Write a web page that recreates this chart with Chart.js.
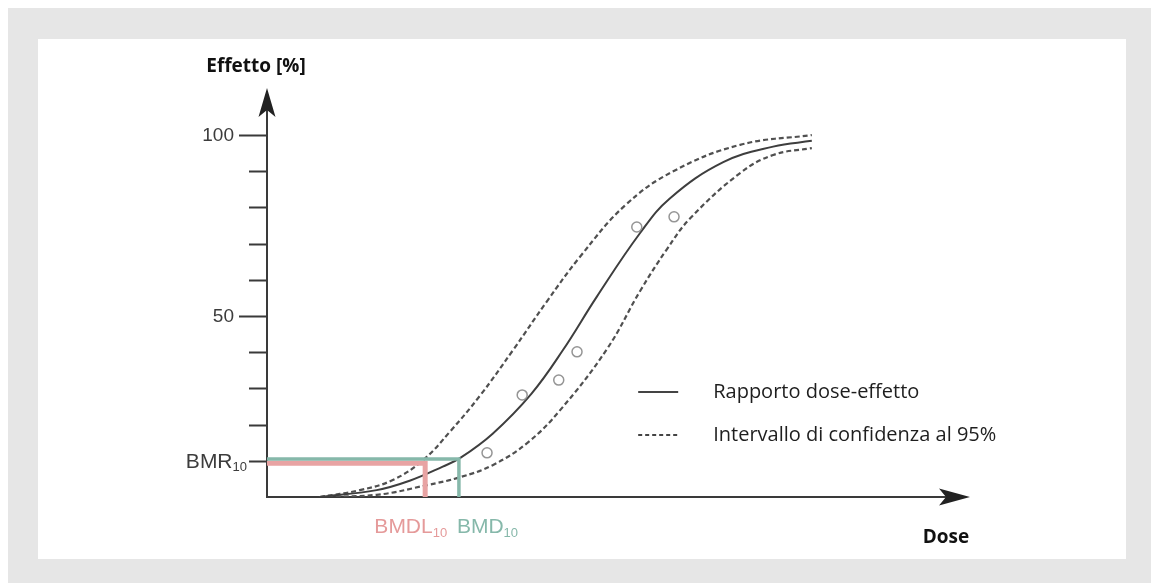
<!DOCTYPE html>
<html lang="it">
<head>
<meta charset="UTF-8">
<title>Rapporto dose-effetto</title>
<script src="https://cdn.jsdelivr.net/npm/chart.js"></script>
<style>
    body {
        margin: 0;
        background: #fff;
        width: 1151px;
        height: 583px;
        overflow: hidden;
        position: relative;
    }
    #frame { position: absolute; left: 8px; top: 8px; right: 0; bottom: 0; background: #e6e6e6; }
    #panel { position: absolute; left: 38px; top: 39px; width: 1088px; height: 520px; background: #fff; }
    #wrap { position: absolute; left: 0; top: 0; width: 1151px; height: 583px; }
</style>
</head>
<body>
<div id="frame"></div>
<div id="panel"></div>
<div id="wrap"><canvas id="doseChart" width="1151" height="583"></canvas></div>

<script>
// fitted dose-response curve (dose in arbitrary units, effect in %)
const fitDose   = [7.5, 15.6, 20.3, 25.0, 27.5, 32.1, 37.6, 42.1, 46.9, 53.1, 57.3, 64.9, 72.0, 77.5];
const fitEffect = [0, 1.9, 4.5, 8.4, 10.8, 17.5, 28.5, 40.6, 55.3, 73.0, 82.5, 92.5, 96.8, 98.4];

// 95% confidence band
const upperDose   = [7.5, 13.2, 17.9, 22.2, 26.0, 30.3, 35.0, 39.8, 44.5, 50.9, 57.8, 67.3, 77.5];
const upperEffect = [0, 1.9, 4.7, 10.2, 18.0, 28.0, 40.6, 54.0, 66.3, 80.5, 90.0, 97.3, 100.0];
const lowerDose   = [7.5, 15.6, 22.8, 27.5, 32.1, 37.0, 41.7, 48.4, 53.1, 56.9, 60.2, 67.3, 72.0, 77.5];
const lowerEffect = [0, 0.6, 3.3, 5.5, 8.8, 14.9, 24.0, 41.0, 57.0, 68.5, 77.0, 89.5, 94.5, 96.4];

// observed responses
const obsDose   = [31.3, 36.3, 41.5, 44.1, 52.6, 57.9];
const obsEffect = [12.2, 28.2, 32.3, 40.1, 74.6, 77.4];

// benchmark values
const bmdl = 22.5;
const bmd = 27.3;
const bmdlLevel = 9.3;
const bmdLevel = 10.5;
const bmr = 10;

// y axis ticks
const yTicks = [10, 20, 30, 40, 50, 60, 70, 80, 90, 100];
const yLabelled = [50, 100];

const legendLabels = ['Rapporto dose-effetto', 'Intervallo di confidenza al 95%'];

const toPoints = (xs, ys) => xs.map((v, i) => ({ x: v, y: ys[i] }));

function arrowHead(ctx, tx, ty, dir) {
    ctx.beginPath();
    if (dir === 'up') {
        ctx.moveTo(tx, ty);
        ctx.lineTo(tx + 8.5, ty + 29);
        ctx.lineTo(tx, ty + 22);
        ctx.lineTo(tx - 8.5, ty + 29);
    } else {
        ctx.moveTo(tx, ty);
        ctx.lineTo(tx - 31, ty - 8.5);
        ctx.lineTo(tx - 24, ty);
        ctx.lineTo(tx - 31, ty + 8.5);
    }
    ctx.closePath();
    ctx.fill();
}

function subText(ctx, main, sub, x, y, align, color) {
    const mainFont = '21px "Liberation Sans", Arial, sans-serif';
    const subFont = '13px "Liberation Sans", Arial, sans-serif';
    ctx.fillStyle = color;
    ctx.textBaseline = 'middle';
    ctx.textAlign = 'left';
    ctx.font = mainFont;
    const wMain = ctx.measureText(main).width;
    ctx.font = subFont;
    const wSub = ctx.measureText(sub).width;
    const start = align === 'right' ? x - wMain - wSub : x;
    ctx.font = mainFont;
    ctx.fillText(main, start, y);
    ctx.font = subFont;
    ctx.fillText(sub, start + wMain, y + 6);
}

const decor = {
    id: 'decor',
    beforeDatasetsDraw(chart) {
        const { ctx, chartArea: a, scales: { x, y } } = chart;
        const x0 = x.getPixelForValue(0);
        const y0 = y.getPixelForValue(0);
        ctx.save();
        ctx.strokeStyle = '#3a3a3a';
        ctx.fillStyle = '#222';
        ctx.lineWidth = 2;

        // axes
        ctx.beginPath();
        ctx.moveTo(x0, y0);
        ctx.lineTo(x0, a.top + 22);
        ctx.moveTo(x0 - 1, y0);
        ctx.lineTo(a.right - 24, y0);
        ctx.stroke();
        arrowHead(ctx, x0, a.top, 'up');
        arrowHead(ctx, a.right, y0, 'right');

        // y ticks
        ctx.beginPath();
        yTicks.forEach(v => {
            const p = Math.round(y.getPixelForValue(v)) + 0.5;
            const len = yLabelled.includes(v) ? 28 : 18;
            ctx.moveTo(x0 - len, p);
            ctx.lineTo(x0, p);
        });
        ctx.lineWidth = 1.8;
        ctx.stroke();

        // tick labels
        ctx.fillStyle = '#3c3c3c';
        ctx.font = '19px "Liberation Sans", Arial, sans-serif';
        ctx.textAlign = 'right';
        ctx.textBaseline = 'middle';
        yLabelled.forEach(v => ctx.fillText(String(v), x0 - 33, y.getPixelForValue(v) + 1));
        subText(ctx, 'BMR', '10', x0 - 20, y.getPixelForValue(bmr) + 1, 'right', '#3c3c3c');

        // benchmark dose labels
        subText(ctx, 'BMDL', '10', x.getPixelForValue(bmdl) + 22, y0 + 30, 'right', '#e59a9a');
        subText(ctx, 'BMD', '10', x.getPixelForValue(bmd) - 2, y0 + 30, 'left', '#86b8aa');

        // axis titles
        ctx.fillStyle = '#111';
        ctx.font = 'bold 19px "Open Sans", Lato, sans-serif';
        ctx.textAlign = 'center';
        ctx.fillText('Effetto [%]', x0 - 11, a.top - 21);
        ctx.fillText('Dose', a.right - 24, y0 + 41);
        ctx.restore();
    },
    afterDraw(chart) {
        const { ctx, scales: { x, y } } = chart;
        ctx.save();
        // legend
        const lx = x.getPixelForValue(52.8);
        const rows = [y.getPixelForValue(29.0), y.getPixelForValue(17.1)];
        const dashes = [[], [4, 3]];
        rows.forEach((ry, i) => {
            ctx.beginPath();
            ctx.setLineDash(dashes[i]);
            ctx.strokeStyle = '#444';
            ctx.lineWidth = 2;
            ctx.moveTo(lx, ry);
            ctx.lineTo(lx + 40, ry);
            ctx.stroke();
            ctx.setLineDash([]);
            ctx.fillStyle = '#1e1e1e';
            ctx.font = '20px "Open Sans", Lato, sans-serif';
            ctx.textAlign = 'left';
            ctx.textBaseline = 'middle';
            ctx.fillText(legendLabels[i], lx + 75, ry);
        });
        ctx.restore();
    }
};

new Chart(document.getElementById('doseChart'), {
    type: 'line',
    data: {
        datasets: [
            {
                label: 'BMD',
                data: [{ x: 0, y: bmdLevel }, { x: bmd, y: bmdLevel }, { x: bmd, y: 0 }],
                borderColor: '#86b8aa',
                borderWidth: 3.5,
                borderJoinStyle: 'miter',
                tension: 0,
                pointRadius: 0,
                clip: false
            },
            {
                label: 'BMDL',
                data: [{ x: 0, y: bmdlLevel }, { x: bmdl, y: bmdlLevel }, { x: bmdl, y: 0 }],
                borderColor: '#e8a3a3',
                borderWidth: 5,
                borderJoinStyle: 'miter',
                tension: 0,
                pointRadius: 0,
                clip: false
            },
            {
                label: 'Osservazioni',
                data: toPoints(obsDose, obsEffect),
                showLine: false,
                pointRadius: 5,
                pointBorderWidth: 1.5,
                pointBorderColor: '#959595',
                pointBackgroundColor: 'rgba(255,255,255,0)'
            },
            {
                label: legendLabels[0],
                data: toPoints(fitDose, fitEffect),
                borderColor: '#3e3e3e',
                borderWidth: 2,
                tension: 0.4,
                pointRadius: 0
            },
            {
                label: legendLabels[1],
                data: toPoints(upperDose, upperEffect),
                borderColor: '#505050',
                borderWidth: 2.2,
                borderDash: [5, 3],
                tension: 0.4,
                pointRadius: 0
            },
            {
                label: legendLabels[1] + ' (inf.)',
                data: toPoints(lowerDose, lowerEffect),
                borderColor: '#505050',
                borderWidth: 2.2,
                borderDash: [5, 3],
                tension: 0.4,
                pointRadius: 0
            }
        ]
    },
    options: {
        responsive: false,
        animation: false,
        devicePixelRatio: 1,
        layout: { padding: { left: 0, right: 181, top: 88, bottom: 0 } },
        plugins: {
            legend: { display: false },
            tooltip: { enabled: false }
        },
        scales: {
            x: {
                type: 'linear',
                min: 0,
                max: 100,
                grid: { display: false },
                border: { display: false },
                ticks: { display: false },
                afterFit: s => { s.height = 86; }
            },
            y: {
                min: 0,
                max: 113,
                grid: { display: false },
                border: { display: false },
                ticks: { display: false },
                afterFit: s => { s.width = 267; }
            }
        }
    },
    plugins: [decor]
});
</script>
</body>
</html>
